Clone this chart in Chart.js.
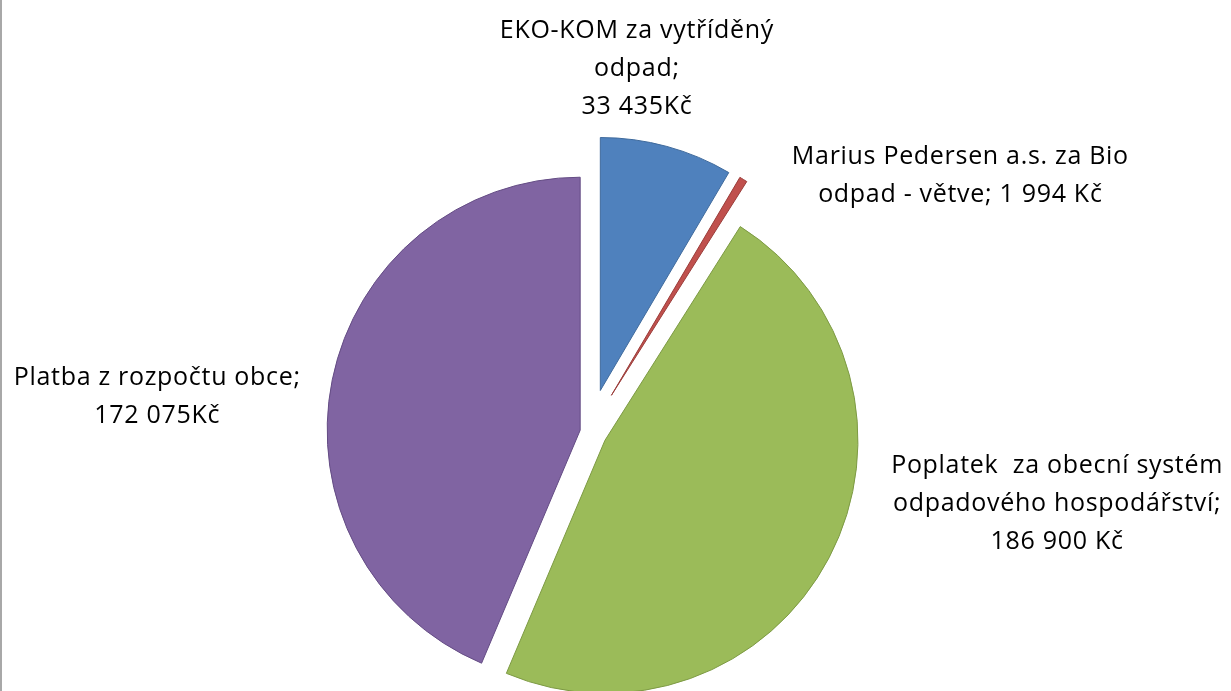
<!DOCTYPE html>
<html>
<head>
<meta charset="utf-8">
<script src="https://cdn.jsdelivr.net/npm/chart.js@4"></script>
<style>
    body { margin: 0; background: #fff; }
    #obal { position: relative; width: 1231px; height: 691px; overflow: hidden; }
    #okraj { position: absolute; left: 0; top: 0; width: 2px; height: 691px; background: #a8a8a8; }
</style>
</head>
<body>
<div id="obal">
    <canvas id="odpady" width="1231" height="691"></canvas>
    <div id="okraj"></div>
</div>
<script>
// data z grafu
const nazvy = [
    ['EKO-KOM za vytříděný', 'odpad;', '33 435Kč'],
    ['Marius Pedersen a.s. za Bio', 'odpad - větve; 1 994 Kč'],
    ['Poplatek  za obecní systém', 'odpadového hospodářství;', '186 900 Kč'],
    ['Platba z rozpočtu obce;', '172 075Kč']
];
const castky = [33435, 1994, 186900, 172075];
const barvy = ['#4F81BD', '#C0504D', '#9BBB59', '#8064A2'];
const okraje = ['#3f6a9c', '#9a3d3a', '#7d9a44', '#644c84'];
// vysunuti vysece v pixelech (jak v Excelu)
const vysunuti = [43, 43, 18, 9];
// posun popisku od vnejsiho okraje vysece
const posunPopisku = [[-30, -78], [217, -4], [228, -54], [-175, 17]];

function stredUhel(arc) {
    const p = arc.getProps(['startAngle', 'endAngle']);
    return (p.startAngle + p.endAngle) / 2;
}

// vysunute vysece - kazdy oblouk kresli Chart.js, jen posunuty
const vysunout = {
    id: 'vysunout',
    beforeDatasetDraw(chart, args) {
        const ctx = chart.ctx;
        const meta = args.meta;
        meta.data.forEach(function (arc, i) {
            const uhel = stredUhel(arc);
            ctx.save();
            ctx.translate(Math.cos(uhel) * vysunuti[i], Math.sin(uhel) * vysunuti[i]);
            arc.draw(ctx);
            ctx.restore();
        });
        return false;
    }
};

const popisky = {
    id: 'popisky',
    afterDatasetsDraw(chart) {
        const ctx = chart.ctx;
        const meta = chart.getDatasetMeta(0);
        ctx.save();
        ctx.font = '25px "Open Sans", Lato, sans-serif';
        if ('letterSpacing' in ctx) ctx.letterSpacing = '0.7px';
        ctx.fillStyle = '#000';
        ctx.textAlign = 'center';
        ctx.textBaseline = 'middle';
        meta.data.forEach(function (arc, i) {
            const p = arc.getProps(['x', 'y', 'outerRadius']);
            const uhel = stredUhel(arc);
            const r = p.outerRadius + vysunuti[i];
            const x = p.x + Math.cos(uhel) * r + posunPopisku[i][0];
            const y = p.y + Math.sin(uhel) * r + posunPopisku[i][1];
            const radky = nazvy[i];
            const vyska = 38;
            for (let j = 0; j < radky.length; j++) {
                ctx.fillText(radky[j], x, y + (j - (radky.length - 1) / 2) * vyska);
            }
        });
        ctx.restore();
    }
};

var ctx = document.getElementById('odpady');
var graf = new Chart(ctx, {
    type: 'pie',
    data: {
        labels: nazvy.map(n => n.join(' ')),
        datasets: [{
            data: castky,
            backgroundColor: barvy,
            borderColor: okraje,
            borderWidth: 1,
            radius: 253
        }]
    },
    options: {
        responsive: false,
        animation: false,
        layout: { padding: { left: 0, right: 53, top: 173, bottom: 0 } },
        plugins: {
            legend: { display: false },
            tooltip: { enabled: false }
        }
    },
    plugins: [vysunout, popisky]
});
</script>
</body>
</html>
